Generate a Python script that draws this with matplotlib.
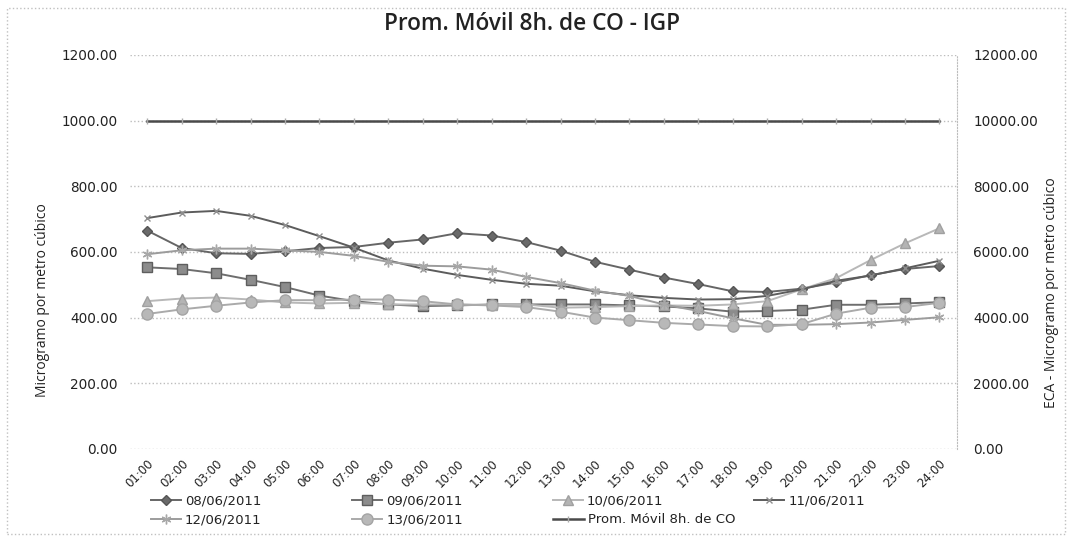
import matplotlib
matplotlib.use('Agg')
import matplotlib.pyplot as plt
from matplotlib.patches import Rectangle

horas = ['%02d:00' % h for h in range(1, 25)]

d_08 = [665, 612, 596, 594, 602, 612, 615, 628, 638, 657, 650, 630,
        604, 570, 546, 522, 502, 480, 478, 488, 507, 529, 548, 557]
d_09 = [553, 548, 535, 515, 493, 467, 450, 440, 435, 437, 440, 440,
        440, 440, 437, 434, 428, 418, 420, 424, 439, 439, 443, 447]
d_10 = [450, 458, 461, 455, 446, 443, 445, 440, 440, 440, 438, 440,
        430, 432, 435, 437, 436, 440, 450, 486, 520, 575, 626, 672]
d_11 = [703, 720, 725, 710, 682, 648, 613, 574, 549, 530, 515, 503,
        497, 480, 468, 460, 455, 456, 466, 486, 512, 528, 550, 573]
d_12 = [593, 605, 610, 610, 605, 600, 588, 570, 558, 556, 546, 524,
        505, 482, 466, 440, 420, 398, 378, 378, 380, 385, 393, 401]
d_13 = [411, 425, 436, 446, 453, 453, 455, 455, 450, 440, 437, 432,
        418, 400, 392, 384, 379, 374, 373, 380, 412, 430, 432, 445]
prom_8h = [10000] * 24   # eje secundario (ECA)

fig = plt.figure(figsize=(10.68, 5.36), dpi=100)
ax = fig.add_axes([0.1217, 0.1625, 0.774, 0.735])
ax2 = ax.twinx()

x = list(range(len(horas)))
series = [
    ('08/06/2011', d_08, dict(color='#666666', marker='D', ms=5, mfc='#6a6a6a', mec='#555555')),
    ('09/06/2011', d_09, dict(color='#6e6e6e', marker='s', ms=7, mfc='#8c8c8c', mec='#5e5e5e')),
    ('10/06/2011', d_10, dict(color='#b8b8b8', marker='^', ms=7, mfc='#b4b4b4', mec='#a0a0a0')),
    ('11/06/2011', d_11, dict(color='#5c5c5c', marker='x', ms=5, mec='#8e8e8e')),
    ('12/06/2011', d_12, dict(color='#9c9c9c', marker=(6, 2, 0), ms=7, mec='#a8a8a8')),
    ('13/06/2011', d_13, dict(color='#aaaaaa', marker='o', ms=8, mfc='#b8b8b8', mec='#a4a4a4')),
]
handles = []
for name, vals, st in series:
    h, = ax.plot(x, vals, lw=1.4, label=name, **st)
    handles.append(h)

h, = ax2.plot(x, prom_8h, color='#4a4a4a', lw=1.8, marker='|', ms=5, mec='#aaaaaa',
              label='Prom. Móvil 8h. de CO')
handles.append(h)

ax.set_xlim(-0.5, 23.5)
ax.set_ylim(0, 1200)
ax2.set_ylim(0, 12000)
ax.set_yticks(range(0, 1201, 200))
ax2.set_yticks(range(0, 12001, 2000))
ax.set_yticklabels(['%.2f' % v for v in range(0, 1201, 200)])
ax2.set_yticklabels(['%.2f' % v for v in range(0, 12001, 2000)])
ax.set_xticks(x)
ax.set_xticklabels(horas, rotation=45, ha='right', rotation_mode='anchor')

ax.grid(axis='y', color='#bdbdbd', ls=':', lw=1)
ax.set_axisbelow(True)
for a in (ax, ax2):
    for s in ['left', 'top', 'bottom']:
        a.spines[s].set_visible(False)
    a.tick_params(length=0, labelsize=9.8, colors='#222222')
ax.spines['right'].set_visible(False)
ax2.spines['right'].set_color('#bdbdbd')
ax2.spines['right'].set_linestyle(':')
ax.tick_params(axis='y', pad=9)
ax.tick_params(axis='x', pad=6, labelsize=8.5)
ax2.tick_params(axis='y', pad=12)

ax.set_ylabel('Microgramo por metro cúbico', fontsize=10, family='Open Sans', color='#222222')
ax.yaxis.set_label_coords(-0.097, 0.378)
ax2.set_ylabel('ECA - Microgramo por metro cúbico', fontsize=10, family='Open Sans', color='#222222')
ax2.yaxis.set_label_coords(1.106, 0.396)
fig.text(0.498, 0.955, 'Prom. Móvil 8h. de CO - IGP', ha='center', va='center',
         fontsize=16.3, family='Open Sans', fontweight='semibold', color='#222222')

# Excel-like legend: two rows with fixed column positions
leg_kw = dict(ncol=4, loc='upper left', frameon=False, fontsize=9.5, handlelength=2.3,
              columnspacing=6.85, handletextpad=0.3, borderaxespad=0, borderpad=0)
leg1 = fig.legend(handles[0:4], [hh.get_label() for hh in handles[0:4]],
                  bbox_to_anchor=(0.141, 0.077), **leg_kw)
leg2 = fig.legend(handles[4:7], [hh.get_label() for hh in handles[4:7]],
                  bbox_to_anchor=(0.141, 0.042), **leg_kw)
for lg in (leg1, leg2):
    for t in lg.get_texts():
        t.set_color('#222222')

fig.patches.append(Rectangle((0.007, 0.004), 0.99, 0.982, transform=fig.transFigure,
                             fill=False, ec='#c0c0c0', ls=':', lw=1))

fig.savefig('out.png', dpi=100, facecolor='white')
